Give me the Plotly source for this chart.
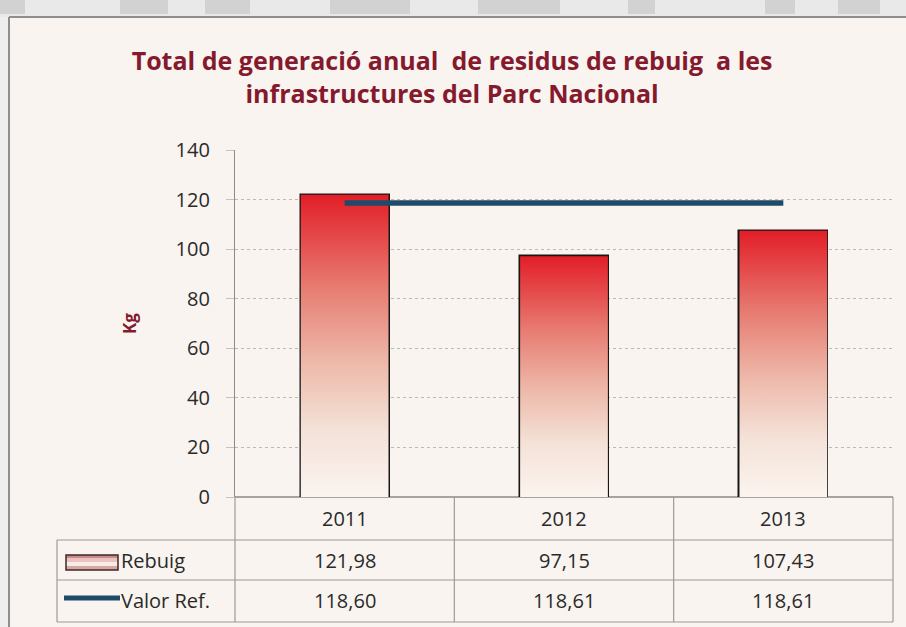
import plotly.graph_objects as go

# --- data -------------------------------------------------------------
years = ["2011", "2012", "2013"]
rebuig = [121.98, 97.15, 107.43]
valor_ref = [118.60, 118.61, 118.61]
y_ticks = [0, 20, 40, 60, 80, 100, 120, 140]
row_labels = ["Rebuig", "Valor Ref."]

# --- layout geometry (pixels) ----------------------------------------
W, H = 906, 627
L, R, T, B = 235, 893, 150, 497          # plot area edges
PW, PH = R - L, B - T

def px_x(p):
    return (p - L) / PW

def px_y(p):
    return (B - p) / PH

n = len(years)
xs = list(range(n))
bar_w = 0.40
x_min, x_max = -0.5, n - 0.5

def cat_paper(v):
    return (v - x_min) / (x_max - x_min)

BG = "#F9F4EF"
RED_TXT = "#85192E"
TXT = "#2A2A2A"
GRID = "#BDB9B5"
TABLE_LINE = "#9C9A98"
NAVY = "#1F4A68"
FONT = "Open Sans"

grad = [[0.0, "#FBF4EF"], [0.22, "#F4E2D8"], [0.45, "#EDB8A9"],
        [0.7, "#E77A70"], [1.0, "#E21E28"]]

fig = go.Figure()

# gradient fills of the bars
for i, v in zip(xs, rebuig):
    x0, x1 = i - bar_w / 2, i + bar_w / 2
    fig.add_trace(go.Scatter(
        x=[x0, x1, x1, x0, x0], y=[0, 0, v, v, 0],
        mode="lines", line=dict(width=0), fill="toself",
        fillgradient=dict(type="vertical", colorscale=grad),
        hoverinfo="skip", showlegend=False))

# bar outlines
fig.add_trace(go.Bar(
    x=xs, y=rebuig, width=bar_w, name="Rebuig",
    marker=dict(color="rgba(0,0,0,0)", line=dict(color="#161616", width=2.5)),
    showlegend=False))

# reference value line
fig.add_trace(go.Scatter(
    x=xs, y=valor_ref, mode="lines", name="Valor Ref.",
    line=dict(color=NAVY, width=5.5), showlegend=False))

shapes = []

# page strip above and left of the chart frame
shapes.append(dict(type="rect", xref="paper", yref="paper",
                   x0=px_x(0), x1=px_x(W), y0=px_y(17), y1=px_y(0),
                   fillcolor="#E9E9E9", line=dict(width=0), layer="below"))
for a, b in [(0, 25), (120, 168), (205, 250), (330, 410), (478, 560),
             (628, 655), (765, 795), (838, 880)]:
    shapes.append(dict(type="rect", xref="paper", yref="paper",
                       x0=px_x(a), x1=px_x(b), y0=px_y(14), y1=px_y(0),
                       fillcolor="#D2D2D2", line=dict(width=0), layer="below"))
shapes.append(dict(type="rect", xref="paper", yref="paper",
                   x0=px_x(0), x1=px_x(9), y0=px_y(H), y1=px_y(17),
                   fillcolor="#EEEEEE", line=dict(width=0), layer="below"))
# chart frame
shapes.append(dict(type="line", xref="paper", yref="paper",
                   x0=px_x(9), x1=px_x(W), y0=px_y(17), y1=px_y(17),
                   line=dict(color="#8E8E8E", width=2)))
shapes.append(dict(type="line", xref="paper", yref="paper",
                   x0=px_x(9), x1=px_x(9), y0=px_y(17), y1=px_y(H),
                   line=dict(color="#8E8E8E", width=2)))

# data table grid
row_edges = [540, 580, 622]
tbl_left = px_x(57)
for yy in row_edges:
    shapes.append(dict(type="line", xref="paper", yref="paper",
                       x0=tbl_left, x1=1, y0=px_y(yy), y1=px_y(yy),
                       line=dict(color=TABLE_LINE, width=1.2)))
for k in range(n + 1):
    xb = cat_paper(k - 0.5)
    shapes.append(dict(type="line", xref="paper", yref="paper",
                       x0=xb, x1=xb, y0=0, y1=px_y(row_edges[-1]),
                       line=dict(color=TABLE_LINE, width=1.2)))
shapes.append(dict(type="line", xref="paper", yref="paper",
                   x0=tbl_left, x1=tbl_left, y0=px_y(row_edges[0]),
                   y1=px_y(row_edges[-1]),
                   line=dict(color=TABLE_LINE, width=1.2)))

# legend keys inside the table
for (c, a, b) in [("#C98A88", 555, 558), ("#EBC2BE", 558, 562),
                  ("#F7ECE8", 562, 566), ("#D9A6A2", 566, 570)]:
    shapes.append(dict(type="rect", xref="paper", yref="paper",
                       x0=px_x(66), x1=px_x(118), y0=px_y(b), y1=px_y(a),
                       fillcolor=c, line=dict(width=0)))
shapes.append(dict(type="rect", xref="paper", yref="paper",
                   x0=px_x(66), x1=px_x(118), y0=px_y(570), y1=px_y(555),
                   line=dict(color="#3A2A2A", width=1.5)))
shapes.append(dict(type="line", xref="paper", yref="paper",
                   x0=px_x(64), x1=px_x(120), y0=px_y(598), y1=px_y(598),
                   line=dict(color=NAVY, width=5)))

annotations = []
row_y = [px_y(518), px_y(560), px_y(600)]
cell_font = dict(family=FONT, size=20, color=TXT)

for i, yr in enumerate(years):
    annotations.append(dict(x=cat_paper(i), y=row_y[0], xref="paper", yref="paper",
                            text=yr, showarrow=False, font=cell_font,
                            xanchor="center", yanchor="middle"))
for r, series in enumerate([rebuig, valor_ref]):
    for i, v in enumerate(series):
        annotations.append(dict(x=cat_paper(i), y=row_y[r + 1], xref="paper",
                                yref="paper", text=f"{v:.2f}".replace(".", ","),
                                showarrow=False, font=cell_font,
                                xanchor="center", yanchor="middle"))
    annotations.append(dict(x=px_x(119), y=row_y[r + 1], xref="paper", yref="paper",
                            text=row_labels[r], showarrow=False, font=cell_font,
                            xanchor="left", yanchor="middle"))

fig.update_layout(
    width=W, height=H,
    margin=dict(l=L, r=W - R, t=T, b=H - B, pad=0),
    paper_bgcolor=BG, plot_bgcolor=BG,
    hovermode=False,
    showlegend=False,
    title=dict(
        text="Total de generació anual\u00a0 de residus de rebuig\u00a0 a les<br>"
             "infrastructures del Parc Nacional",
        x=0.499, xanchor="center", y=1 - 70 / H, yanchor="middle",
        xref="container", yref="container",
        font=dict(family=FONT, size=25, color=RED_TXT, weight="bold")),
    xaxis=dict(range=[x_min, x_max], showticklabels=False, showgrid=False,
               zeroline=False, showline=False, ticks="", fixedrange=True),
    yaxis=dict(range=[0, 140], tickvals=y_ticks, showgrid=True,
               gridcolor=GRID, griddash="dot", gridwidth=1,
               zeroline=True, zerolinecolor="#A6A3A0", zerolinewidth=2,
               showline=True, linecolor="#8E8C8A", linewidth=1.2,
               ticks="outside", ticklen=8, tickcolor="#C6C2BE",
               ticklabelstandoff=12,
               tickfont=dict(family=FONT, size=20, color=TXT),
               title=dict(text="Kg", standoff=34,
                          font=dict(family=FONT, size=17, color=RED_TXT,
                                    weight="bold")),
               fixedrange=True),
    shapes=shapes,
    annotations=annotations,
    bargap=0,
)

fig.write_html("out.html")
